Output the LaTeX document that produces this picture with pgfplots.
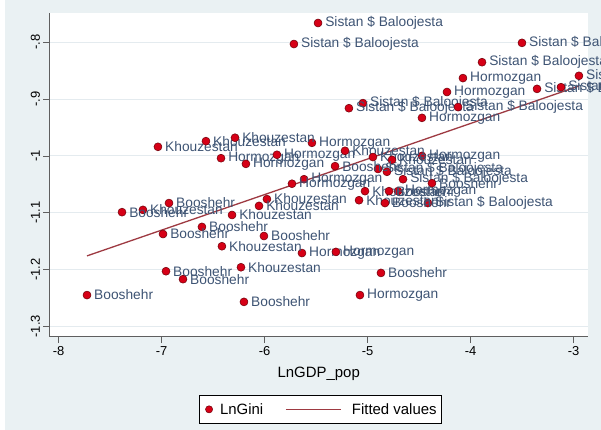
\documentclass[border=0pt]{standalone}
\usepackage{fontspec}
\setmainfont{Liberation Sans}
\usepackage{pgfplots}
\pgfplotsset{compat=1.18}

\definecolor{regionbg}{RGB}{234,241,243}
\definecolor{gridcol}{RGB}{228,235,239}
\definecolor{axiscol}{RGB}{95,95,95}
\definecolor{markfill}{RGB}{214,0,22}
\definecolor{markdraw}{RGB}{110,0,10}
\definecolor{labcol}{RGB}{62,84,116}
\definecolor{fitcol}{RGB}{158,58,66}

\pgfplotsset{
  province/.style={
    only marks, mark=*, mark size=4bp,
    mark options={fill=markfill, draw=markdraw, line width=0.5bp},
    nodes near coords={#1},
    every node near coord/.append style={anchor=west, xshift=7bp, inner sep=0pt,
      text=labcol, font=\fontsize{13.8}{15}\selectfont},
    legend image code/.code={%
      \path[draw=none, fill=none] (0bp,-3bp) rectangle (10bp,3bp);
      \draw[##1, mark size=3.6bp] plot coordinates {(5bp,0bp)};},
  },
  fitline/.style={
    fitcol, line width=1.3bp,
    legend image code/.code={%
      \path[draw=none, fill=none] (0bp,-3bp) rectangle (60bp,3bp);
      \draw[##1] (0bp,0bp) -- (55bp,0bp);},
  },
}

\begin{document}
\begin{tikzpicture}
\fill[regionbg] (0bp,0bp) rectangle (601bp,430bp);
\fill[white] (0bp,0bp) rectangle (5bp,430bp);
\begin{axis}[
  at={(49.5bp,93bp)}, anchor=south west,
  scale only axis, width=538.5bp, height=324bp,
  xmin=-8.089, xmax=-2.861, ymin=-1.3188, ymax=-0.7484,
  clip=false,
  axis background/.style={fill=white},
  axis x line*=bottom, axis y line*=left,
  axis line style={-, axiscol, line width=1bp},
  xtick={-8,-7,-6,-5,-4,-3},
  xticklabels={-8,-7,-6,-5,-4,-3},
  ytick={-1.3,-1.2,-1.1,-1,-0.9,-0.8},
  yticklabels={-1.3,-1.2,-1.1,-1,-.9,-.8},
  tick align=outside, major tick length=6bp,
  tick style={axiscol, line width=0.8bp},
  ymajorgrids, major grid style={gridcol, line width=1bp},
  tick label style={font=\fontsize{13}{15}\selectfont, black},
  yticklabel style={rotate=90, anchor=south},
  xlabel={LnGDP\_pop},
  xlabel style={font=\fontsize{15}{17}\selectfont, yshift=-5bp},
  legend columns=2,
  legend style={at={(0.503,-0.179)}, anchor=north, draw=black, fill=white,
    font=\fontsize{15}{17}\selectfont, inner xsep=5bp, inner ysep=8bp,
    nodes={inner sep=0bp},
    /tikz/every odd column/.append style={column sep=6bp},
    /tikz/every even column/.append style={column sep=22bp}},
]
% Sistan $ Baloojesta
\addplot[province={Sistan \$ Baloojesta}] coordinates {
  (-5.482,-0.766) (-5.716,-0.803) (-3.502,-0.801) (-3.890,-0.835)
  (-2.949,-0.859) (-3.356,-0.882) (-3.123,-0.879) (-5.046,-0.907)
  (-5.182,-0.916) (-4.123,-0.914) (-4.900,-1.023) (-4.813,-1.028)
  (-4.657,-1.041) (-4.415,-1.083)
};
\addlegendentry{LnGini}
% Hormozgan
\addplot[province={Hormozgan}, forget plot] coordinates {
  (-4.075,-0.863) (-4.230,-0.8875) (-4.473,-0.933) (-5.541,-0.977)
  (-4.473,-1.000) (-5.618,-1.041) (-5.735,-1.049) (-4.706,-1.062)
  (-5.638,-1.171) (-5.308,-1.169) (-5.075,-1.245) (-6.424,-1.004)
  (-5.881,-0.998) (-6.182,-1.014)
};
% Khouzestan
\addplot[province={Khouzestan}, forget plot] coordinates {
  (-5.220,-0.991) (-4.949,-1.002) (-4.764,-1.007) (-5.026,-1.062)
  (-5.084,-1.078) (-7.036,-0.984) (-6.570,-0.974) (-6.288,-0.968)
  (-5.978,-1.076) (-6.055,-1.088) (-6.317,-1.104) (-7.182,-1.095)
  (-6.415,-1.159) (-6.230,-1.196)
};
% Booshehr
\addplot[province={Booshehr}, forget plot] coordinates {
  (-5.317,-1.018) (-4.376,-1.048) (-4.793,-1.062) (-4.832,-1.083)
  (-4.871,-1.206) (-6.929,-1.083) (-7.385,-1.099) (-6.609,-1.125)
  (-6.987,-1.1375) (-6.007,-1.141) (-6.958,-1.203) (-6.793,-1.217)
  (-7.725,-1.245) (-6.201,-1.257)
};
% linear fit
\addplot[fitline] coordinates {(-7.725,-1.176) (-2.949,-0.877)};
\addlegendentry{Fitted values}
\end{axis}
\pgfresetboundingbox
\path[use as bounding box] (0bp,0bp) rectangle (601bp,430bp);
\end{tikzpicture}
\end{document}
